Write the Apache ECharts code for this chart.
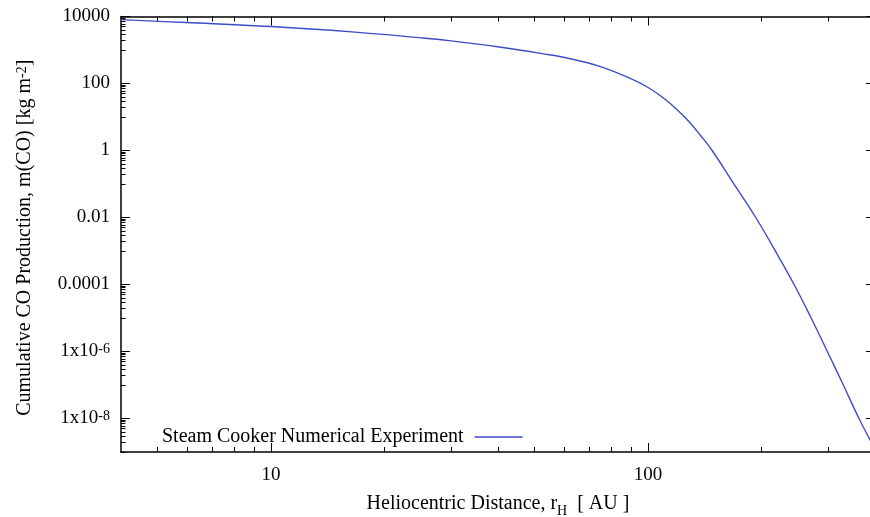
<!DOCTYPE html>
<html>
<head>
<meta charset="utf-8">
<script src="https://cdn.jsdelivr.net/npm/echarts@6/dist/echarts.min.js"></script>
<style>
  html, body { margin: 0; padding: 0; background: #fff; overflow: hidden; }
  #chart { width: 880px; height: 517px; }
</style>
</head>
<body>
<div id="chart"></div>
<script>
// Heliocentric distance r_H [AU]
const rH = [4.0, 5.94, 10, 16.4, 24.7, 29.7, 40.3, 54.6, 60.5, 74.1, 90.9, 100.6, 111.4, 121.0, 128.5, 138.0, 147.9, 167.9, 193.1, 217.0, 244.0, 270.2, 299.0, 329.4, 362.8, 400];
// Cumulative CO production m(CO) [kg m^-2]
const mCO = [8040, 6610, 5010, 3470, 2340, 1905, 1230, 724, 589, 331, 133.4, 73.3, 32.8, 14.3, 7.2, 2.75, 1.0, 0.112, 0.01, 1.06e-3, 1.0e-4, 1.05e-5, 1.0e-6, 1.02e-7, 1.0e-8, 1.2e-9];

const seriesName = 'Steam Cooker Numerical Experiment';

// axis ticks
const xMajorTicks = [10, 100];
const xMinorTicks = [5, 6, 7, 8, 9, 20, 30, 40, 50, 60, 70, 80, 90, 200, 300];
const yMajorTicks = [1e-8, 1e-6, 1e-4, 0.01, 1, 100, 10000];
const yMajorLabels = ['1x10^-8', '1x10^-6', '0.0001', '0.01', '1', '100', '10000'];
const yMinorDecades = [1e-9, 1e-7, 1e-5, 1e-3, 0.1, 10, 1000];
const yMinorMantissas = [1, 2, 3, 4, 5, 6, 7, 8, 9];

const yMinorTicks = [];
yMinorDecades.forEach(d => yMinorMantissas.forEach(m => yMinorTicks.push(m * d)));

const FONT = 'Liberation Serif';
const FS = 19;   // tick labels
const FT = 20;   // titles / legend
const AX = '#000';
const LINE = '#3c4dc6';

function yLabelFmt(v) {
  const lv = Math.log10(v);
  let idx = -1;
  yMajorTicks.forEach((t, i) => { if (Math.abs(Math.log10(t) - lv) < 1e-6) idx = i; });
  if (idx < 0) return '';
  const s = yMajorLabels[idx];
  if (s.indexOf('^') >= 0) {
    const p = s.split('^');
    return p[0] + '{sup|' + p[1] + '}';
  }
  return s;
}
function xLabelFmt(v) {
  let out = '';
  xMajorTicks.forEach(t => { if (Math.abs(Math.log10(t) - Math.log10(v)) < 1e-6) out = String(t); });
  return out;
}

const richSup = {
  sup: { fontFamily: FONT, fontSize: 14, color: AX, verticalAlign: 'top', lineHeight: 12 }
};

function xAxisDef(pos, ticks, len, major, withLabels) {
  const a = {
    type: 'log', logBase: 10, min: 4, max: 400, position: pos,
    axisLine: { show: major, onZero: false, lineStyle: { color: AX, width: 1.5 } },
    axisTick: { show: true, inside: true, length: len, customValues: ticks, lineStyle: { color: AX, width: 1 } },
    axisLabel: { show: withLabels },
    splitLine: { show: false },
    minorTick: { show: false }
  };
  if (withLabels) {
    a.axisLabel = { show: true, customValues: ticks, margin: 14, fontFamily: FONT, fontSize: FS, color: AX, formatter: xLabelFmt };
    a.name = '{t|Heliocentric Distance, r}{sub|H}{t|  [ AU ]}';
    a.nameLocation = 'middle';
    a.nameGap = 42;
    a.nameTextStyle = {
      fontFamily: FONT, fontSize: FT, color: AX,
      rich: {
        t: { fontFamily: FONT, fontSize: FT, color: AX, lineHeight: 24, verticalAlign: 'top' },
        sub: { fontFamily: FONT, fontSize: 14, color: AX, lineHeight: 14, verticalAlign: 'bottom' }
      }
    };
  }
  return a;
}
function yAxisDef(pos, ticks, len, major, withLabels) {
  const a = {
    type: 'log', logBase: 10, min: 1e-9, max: 10000, position: pos,
    axisLine: { show: major, onZero: false, lineStyle: { color: AX, width: 1.5 } },
    axisTick: { show: true, inside: true, length: len, customValues: ticks, lineStyle: { color: AX, width: 1 } },
    axisLabel: { show: withLabels },
    splitLine: { show: false },
    minorTick: { show: false }
  };
  if (withLabels) {
    a.axisLabel = { show: true, customValues: ticks, margin: 11, fontFamily: FONT, fontSize: FS, color: AX, formatter: yLabelFmt, rich: richSup };
    a.name = 'Cumulative CO Production, m(CO) [kg m{sup|-2}]';
    a.nameLocation = 'middle';
    a.nameRotate = 90;
    a.nameGap = 86;
    a.nameTextStyle = {
      fontFamily: FONT, fontSize: FT, color: AX, padding: [0, 7, 0, 0],
      rich: {
        sup: { fontFamily: FONT, fontSize: 14, color: AX, verticalAlign: 'top', lineHeight: 12 }
      }
    };
  }
  return a;
}

const chart = echarts.init(document.getElementById('chart'), null, { renderer: 'canvas' });
chart.setOption({
  animation: false,
  backgroundColor: '#fff',
  grid: { left: 121, right: 5, top: 16.5, bottom: 65, containLabel: false, outerBoundsMode: 'none' },
  legend: {
    show: true,
    data: [seriesName],
    left: 157, top: 422,
    align: 'right',
    icon: 'rect',
    itemWidth: 48, itemHeight: 1.3,
    textStyle: { fontFamily: FONT, fontSize: FT, color: AX, padding: [0, 6, 0, 0] },
    padding: 5
  },
  xAxis: [
    xAxisDef('bottom', xMajorTicks, 9, true, true),
    xAxisDef('bottom', xMinorTicks, 5, false, false),
    xAxisDef('top', xMajorTicks, 9, true, false),
    xAxisDef('top', xMinorTicks, 5, false, false)
  ],
  yAxis: [
    yAxisDef('left', yMajorTicks, 9, true, true),
    yAxisDef('left', yMinorTicks, 4.5, false, false),
    yAxisDef('right', yMajorTicks, 9, true, false),
    yAxisDef('right', yMinorTicks, 4.5, false, false)
  ],
  series: [{
    name: seriesName,
    type: 'line',
    xAxisIndex: 0, yAxisIndex: 0,
    data: rH.map((x, i) => [x, mCO[i]]),
    showSymbol: false, symbol: 'none',
    smooth: 0.4,
    lineStyle: { color: LINE, width: 1.4 },
    itemStyle: { color: LINE }
  }]
});
</script>
</body>
</html>
